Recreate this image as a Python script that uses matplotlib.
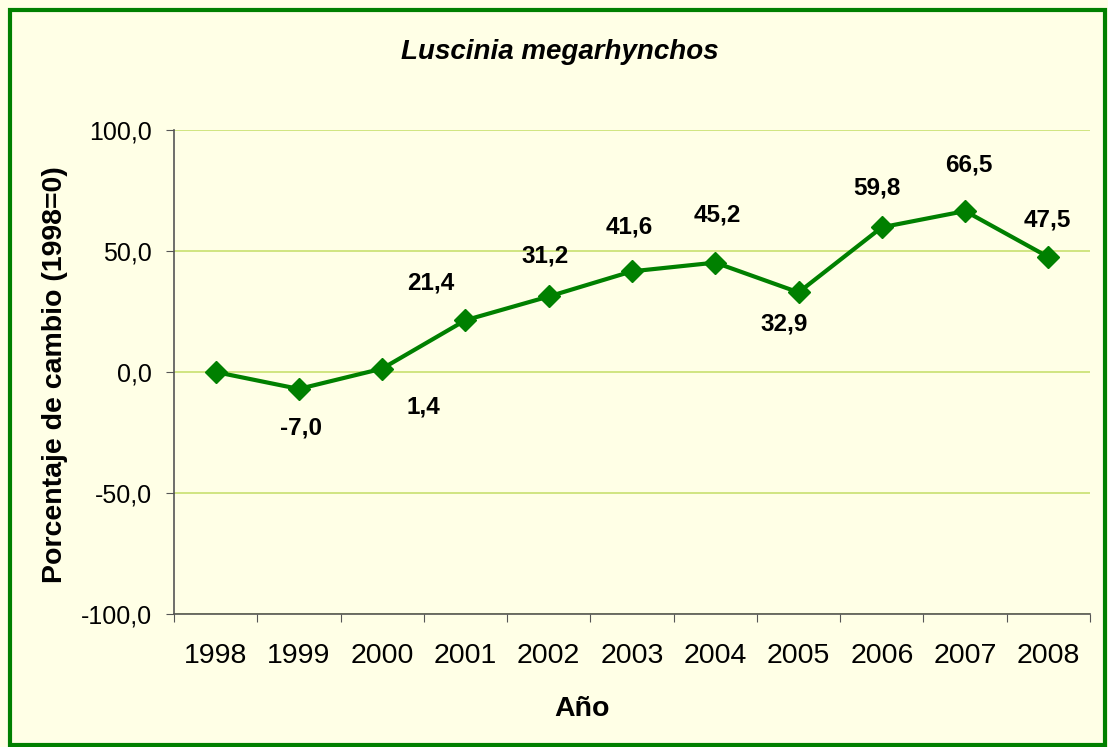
import matplotlib.pyplot as plt
from matplotlib.patches import Rectangle
from matplotlib.ticker import FuncFormatter, FixedLocator

plt.rcParams['font.family'] = ['Liberation Sans', 'DejaVu Sans']

# data
years = ['1998', '1999', '2000', '2001', '2002', '2003', '2004', '2005', '2006', '2007', '2008']
cambio = [0.0, -7.0, 1.4, 21.4, 31.2, 41.6, 45.2, 32.9, 59.8, 66.5, 47.5]
etiquetas = ['', '-7,0', '1,4', '21,4', '31,2', '41,6', '45,2', '32,9', '59,8', '66,5', '47,5']

# label offsets in pixels (x, y), as placed in the original
offsets = [(0, 0), (2, -39), (41, -38), (-35, 37), (-4, 40), (-3, 44),
           (2, 48), (-14, -32), (-5, 39), (4, 46), (-1, 37)]

fondo = '#FFFFE6'
verde = '#008000'

fig = plt.figure(figsize=(11.08, 7.47), dpi=100, facecolor=fondo)
ax = fig.add_axes([0.157, 0.178, 0.8268, 0.648])
ax.set_facecolor(fondo)

x = list(range(len(years)))
ax.plot(x, cambio, color=verde, lw=3, marker='D', markersize=11, zorder=3)

for i in x:
    if etiquetas[i]:
        ax.annotate(etiquetas[i], (x[i], cambio[i]), xytext=offsets[i],
                    textcoords='offset pixels', ha='center', va='center',
                    fontsize=17.5, fontweight='bold')

ax.set_ylim(-100, 100)
ax.set_yticks([-100, -50, 0, 50, 100])
ax.yaxis.set_major_formatter(FuncFormatter(lambda v, p: f'{v:.1f}'.replace('.', ',')))
ax.grid(axis='y', color='#C8E070', lw=1.2)
ax.set_axisbelow(True)

ax.set_xlim(-0.5, len(years) - 0.5)
ax.xaxis.set_major_locator(FixedLocator([i - 0.5 for i in range(len(years) + 1)]))
ax.xaxis.set_minor_locator(FixedLocator(x))
ax.set_xticklabels([], minor=False)
ax.set_xticklabels(years, minor=True)
ax.tick_params(axis='x', which='major', length=6, color='#555555', direction='out')
ax.tick_params(axis='x', which='minor', length=0, labelsize=20.5, pad=21)
ax.tick_params(axis='y', length=6, color='#555555', labelsize=18, pad=10)

for s in ['top', 'right']:
    ax.spines[s].set_visible(False)
for s in ['left', 'bottom']:
    ax.spines[s].set_color('#555555')
    ax.spines[s].set_linewidth(1.2)

ax.set_xlabel('Año', fontsize=20.5, fontweight='bold')
ax.xaxis.set_label_coords(0.445, -0.169)
ax.set_ylabel('Porcentaje de cambio (1998=0)', fontsize=20.5, fontweight='bold')
ax.yaxis.set_label_coords(-0.116, 0.494)
fig.text(0.505, 0.93, 'Luscinia megarhynchos', fontsize=20, fontstyle='italic',
         fontweight='bold', ha='center', va='center')

# green frame around the chart
fig.patches.append(Rectangle((10 / 1108, 2.5 / 747), 1095 / 1108, 734.5 / 747,
                             transform=fig.transFigure, fill=False,
                             edgecolor=verde, lw=3))

fig.savefig('out.png', dpi=100, facecolor=fondo)
